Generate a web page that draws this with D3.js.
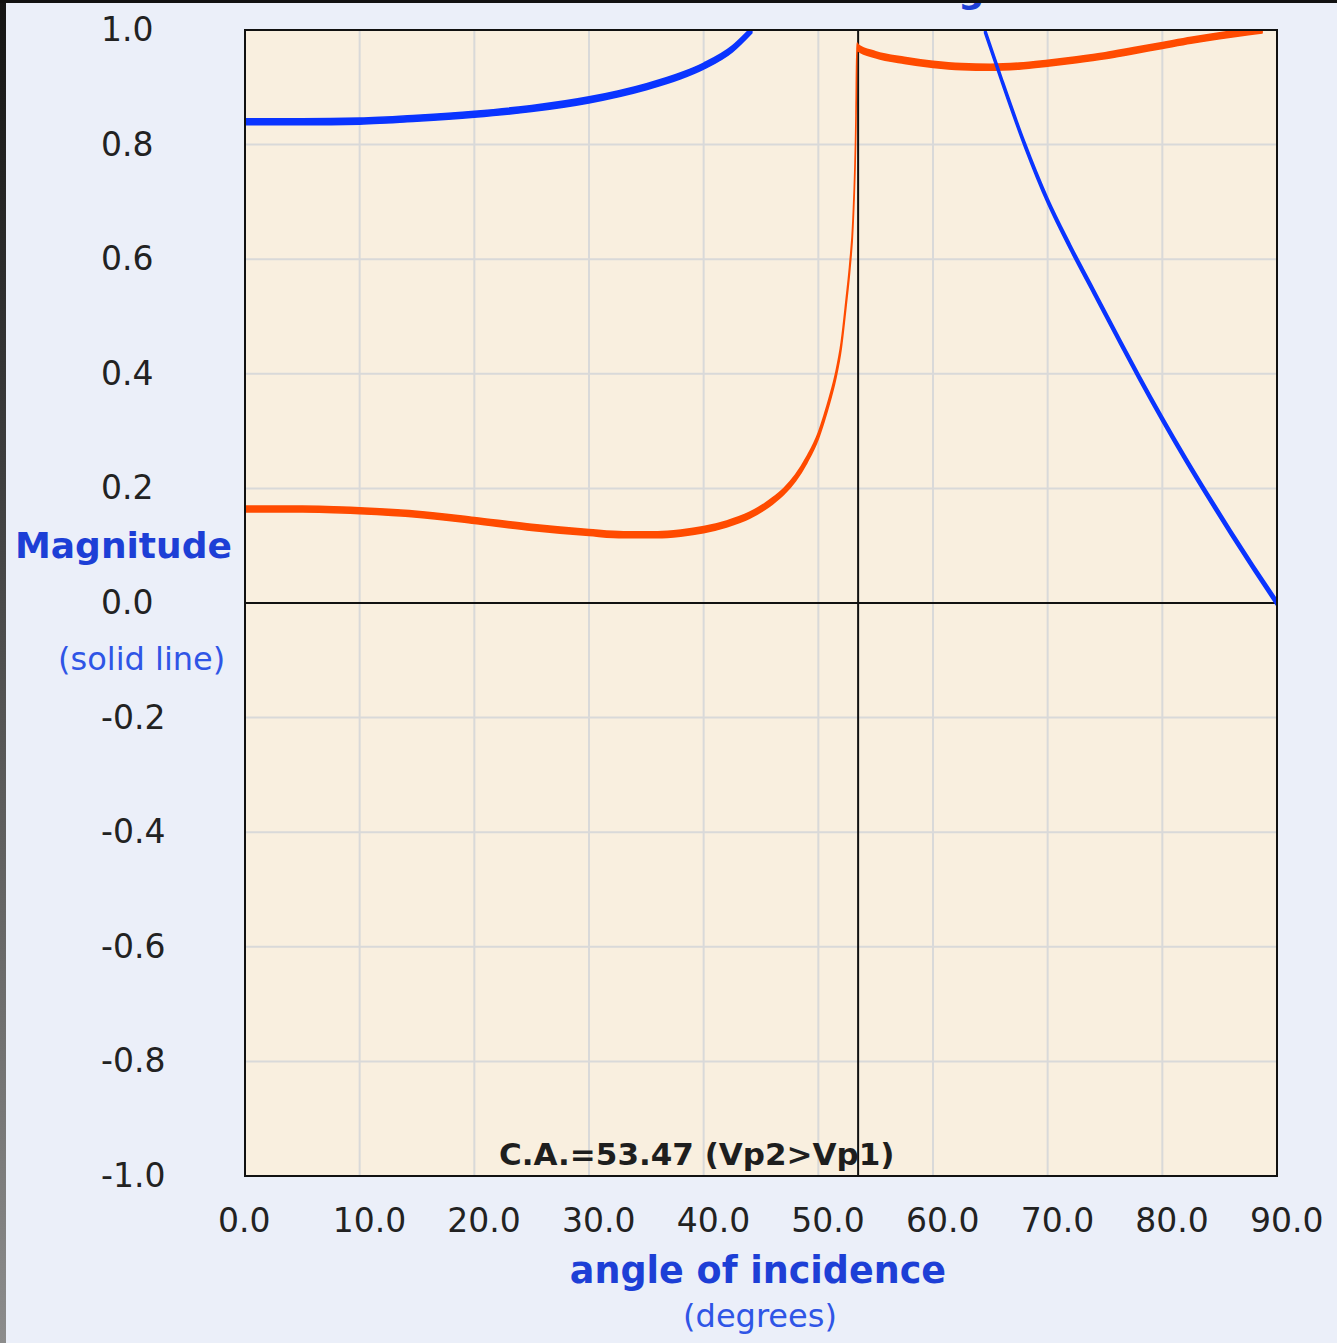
<!DOCTYPE html>
<html>
<head>
<meta charset="utf-8">
<script src="https://cdn.jsdelivr.net/npm/d3@7"></script>
<style>
  html, body { margin: 0; padding: 0; background: #ebeff9; }
  svg { display: block; }
</style>
</head>
<body>
<svg id="chart" width="1337" height="1343"></svg>
<script>
// Angle of incidence ticks (degrees) and their labels
const angleTicks = [0, 10, 20, 30, 40, 50, 60, 70, 80, 90];
const angleTickLabels = ["0.0", "10.0", "20.0", "30.0", "40.0", "50.0", "60.0", "70.0", "80.0", "90.0"];

// Magnitude ticks and their labels
const magTicks = [1.0, 0.8, 0.6, 0.4, 0.2, 0.0, -0.2, -0.4, -0.6, -0.8, -1.0];
const magTickLabels = ["1.0", "0.8", "0.6", "0.4", "0.2", "0.0", "-0.2", "-0.4", "-0.6", "-0.8", "-1.0"];

// Critical angle
const criticalAngle = 53.47;

// Blue magnitude curve, pre-critical branch (leaves the top of the frame)
const blueAnglesA = [0, 5, 10, 15, 20, 25, 30, 35, 38, 40, 42.5, 44.2];
const blueMagA    = [0.840, 0.840, 0.841, 0.846, 0.853, 0.863, 0.878, 0.901, 0.920, 0.937, 0.967, 1.0];

// Blue magnitude curve, post-critical branch (re-enters from the top)
const blueAnglesB = [64.5, 66, 68, 70, 72, 74, 76, 78, 80, 82, 84, 86, 88, 90];
const blueMagB    = [1.0, 0.912, 0.800, 0.702, 0.620, 0.544, 0.468, 0.393, 0.321, 0.252, 0.186, 0.122, 0.060, 0.0];

// Orange magnitude curve
const orangeAngles = [0, 5, 10, 15, 20, 25, 30, 33, 36, 38, 40, 42, 44, 46, 47, 48, 49, 50,
                      50.5, 51, 51.5, 52, 52.4, 52.76, 53.02, 53.28, 53.37,
                      53.47, 55, 57.5, 60, 62.5, 65, 67.5, 70, 72.5, 75, 77.5, 80, 82.5, 85, 87.5, 88.7];
const orangeMag    = [0.164, 0.164, 0.161, 0.155, 0.144, 0.132, 0.123, 0.119, 0.119, 0.122, 0.128, 0.138, 0.153, 0.178, 0.195, 0.218, 0.250, 0.292,
                      0.322, 0.356, 0.395, 0.450, 0.520, 0.590, 0.663, 0.840, 0.972,
                      0.969, 0.957, 0.947, 0.940, 0.936, 0.935, 0.937, 0.942, 0.948, 0.955, 0.964, 0.973, 0.982, 0.990, 0.997, 1.0];

const svg = d3.select("#chart");
const W = 1337, H = 1343;
const plot = { left: 245, right: 1277, top: 30, bottom: 1176 };

const x = d3.scaleLinear().domain([0, 90]).range([plot.left, plot.right]);
const y = d3.scaleLinear().domain([-1, 1]).range([plot.bottom, plot.top]);

// Window chrome: dark top strip and shaded left edge
const defs = svg.append("defs");
const grad = defs.append("linearGradient").attr("id", "edgeShade")
  .attr("x1", 0).attr("y1", 0).attr("x2", 0).attr("y2", 1);
grad.append("stop").attr("offset", "0%").attr("stop-color", "#141414");
grad.append("stop").attr("offset", "100%").attr("stop-color", "#8c8c8c");

svg.append("rect").attr("x", 0).attr("y", 0).attr("width", W).attr("height", H).attr("fill", "#ebeff9");

// Title (sits mostly above the visible area)
const title = svg.append("text")
  .attr("y", 2)
  .attr("font-family", "DejaVu Sans, sans-serif")
  .attr("font-weight", "bold")
  .attr("font-size", 37)
  .attr("fill", "#1d3fd6")
  .text("Reflected P-wave Magnitude");
{
  const node = title.node();
  const txt = node.textContent;
  const gi = txt.lastIndexOf("g");
  const before = node.getSubStringLength(0, gi);
  title.attr("x", 958 - before);
}

svg.append("rect").attr("x", 0).attr("y", 0).attr("width", 6).attr("height", H).attr("fill", "url(#edgeShade)");
svg.append("rect").attr("x", 0).attr("y", 0).attr("width", W).attr("height", 3).attr("fill", "#111");

// Plot background
svg.append("rect")
  .attr("x", plot.left).attr("y", plot.top)
  .attr("width", plot.right - plot.left).attr("height", plot.bottom - plot.top)
  .attr("fill", "#f9efdf");

// Grid lines
const grid = svg.append("g").attr("stroke", "#d9d9d9").attr("stroke-width", 2);
grid.selectAll("line.v").data(angleTicks.slice(1, -1)).join("line")
  .attr("class", "v")
  .attr("x1", d => x(d)).attr("x2", d => x(d))
  .attr("y1", plot.top).attr("y2", plot.bottom);
grid.selectAll("line.h").data(magTicks.filter(d => d !== 0 && d !== 1 && d !== -1)).join("line")
  .attr("class", "h")
  .attr("x1", plot.left).attr("x2", plot.right)
  .attr("y1", d => y(d)).attr("y2", d => y(d));

// Zero line
svg.append("line")
  .attr("x1", plot.left).attr("x2", plot.right)
  .attr("y1", y(0)).attr("y2", y(0))
  .attr("stroke", "#111").attr("stroke-width", 2);

// Critical angle annotation
svg.append("text")
  .attr("x", 499).attr("y", 1165)
  .attr("font-family", "DejaVu Sans, sans-serif")
  .attr("font-weight", "bold")
  .attr("font-size", 31)
  .attr("fill", "#1e1e1e")
  .text("C.A.=" + criticalAngle.toFixed(2) + " (Vp2>Vp1)");

// Critical angle marker line
svg.append("line")
  .attr("x1", x(criticalAngle)).attr("x2", x(criticalAngle))
  .attr("y1", plot.top).attr("y2", plot.bottom)
  .attr("stroke", "#111").attr("stroke-width", 2);

// Curves clipped to the plot area, drawn with a vertically elongated pen
defs.append("clipPath").attr("id", "plotClip").append("rect")
  .attr("x", plot.left).attr("y", plot.top)
  .attr("width", plot.right - plot.left).attr("height", plot.bottom - plot.top);

const curves = svg.append("g").attr("clip-path", "url(#plotClip)");
const halfPen = 3;
const ribbon = d3.area()
  .x(d => x(d[0]))
  .y0(d => y(d[1]) + halfPen)
  .y1(d => y(d[1]) - halfPen)
  .curve(d3.curveMonotoneX);

function drawCurve(angles, mags, color) {
  const pts = angles.map((a, i) => [a, mags[i]]);
  curves.append("path")
    .attr("d", ribbon(pts))
    .attr("fill", color)
    .attr("stroke", color)
    .attr("stroke-width", 1.6)
    .attr("stroke-linejoin", "round");
}

drawCurve(orangeAngles, orangeMag, "#ff4b00");
drawCurve(blueAnglesA, blueMagA, "#0a34ff");
drawCurve(blueAnglesB, blueMagB, "#0a34ff");

// Frame
svg.append("rect")
  .attr("x", plot.left).attr("y", plot.top)
  .attr("width", plot.right - plot.left).attr("height", plot.bottom - plot.top)
  .attr("fill", "none").attr("stroke", "#111").attr("stroke-width", 2);

// Y axis labels
const yAxis = d3.axisLeft(y)
  .tickValues(magTicks)
  .tickFormat((d, i) => magTickLabels[i])
  .tickSize(0).tickPadding(0);
const yg = svg.append("g").attr("transform", "translate(101,0)").call(yAxis);
yg.select(".domain").remove();
yg.selectAll("text")
  .attr("x", 0).attr("text-anchor", "start")
  .attr("font-family", "DejaVu Sans, sans-serif")
  .attr("font-size", 33)
  .attr("fill", "#222");

// X axis labels
const xAxis = d3.axisBottom(x)
  .tickValues(angleTicks)
  .tickFormat((d, i) => angleTickLabels[i])
  .tickSize(0).tickPadding(0);
const xg = svg.append("g").attr("transform", "translate(0,1232)").call(xAxis);
xg.select(".domain").remove();
xg.selectAll("text")
  .attr("x", -27.5).attr("y", 0).attr("dy", 0)
  .attr("text-anchor", "start")
  .attr("font-family", "DejaVu Sans, sans-serif")
  .attr("font-size", 33)
  .attr("fill", "#222");

// Axis titles
svg.append("text")
  .attr("x", 15).attr("y", 558)
  .attr("font-family", "DejaVu Sans, sans-serif")
  .attr("font-weight", "bold").attr("font-size", 36)
  .attr("fill", "#1d3fd6")
  .text("Magnitude");
svg.append("text")
  .attr("x", 58).attr("y", 670)
  .attr("font-family", "DejaVu Sans, sans-serif")
  .attr("font-size", 32)
  .attr("fill", "#2f55e6")
  .text("(solid line)");
svg.append("text")
  .attr("x", 758).attr("y", 1283)
  .attr("text-anchor", "middle")
  .attr("font-family", "DejaVu Sans, sans-serif")
  .attr("font-weight", "bold").attr("font-size", 36.5)
  .attr("fill", "#1d3fd6")
  .text("angle of incidence");
svg.append("text")
  .attr("x", 760).attr("y", 1327)
  .attr("text-anchor", "middle")
  .attr("font-family", "DejaVu Sans, sans-serif")
  .attr("font-size", 32)
  .attr("fill", "#2f55e6")
  .text("(degrees)");
</script>
</body>
</html>
